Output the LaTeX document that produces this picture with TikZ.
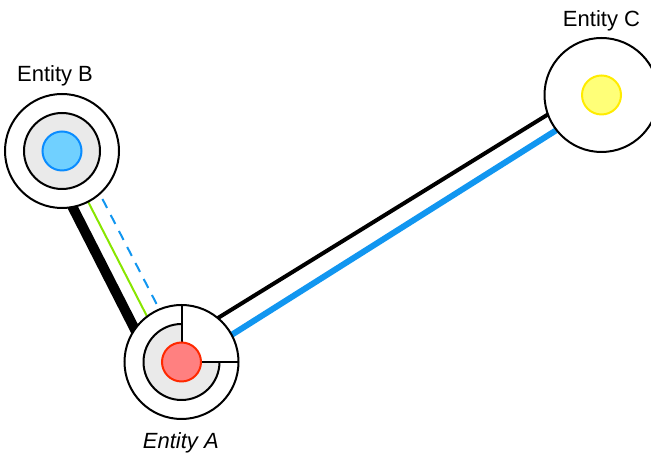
\documentclass[tikz,border=0pt]{standalone}
\usepackage{fontspec}
\setmainfont{Liberation Sans}
\usetikzlibrary{backgrounds}

\definecolor{ringgray}{RGB}{234,234,234}
\definecolor{bluefill}{RGB}{112,208,255}
\definecolor{blueline}{RGB}{10,140,255}
\definecolor{redfill}{RGB}{255,128,128}
\definecolor{redline}{RGB}{255,40,0}
\definecolor{yellowfill}{RGB}{255,255,120}
\definecolor{yellowline}{RGB}{255,236,0}
\definecolor{linkgreen}{RGB}{136,230,0}
\definecolor{linkblue}{RGB}{17,150,240}

\begin{document}
\begin{tikzpicture}[x=1pt,y=1pt,
  outerring/.style={circle, draw=black, line width=2pt, fill=white,
    minimum size=114pt, inner sep=0pt, outer sep=0pt},
  midring/.style={circle, draw=black, line width=2pt, fill=ringgray,
    minimum size=76pt, inner sep=0pt, outer sep=0pt},
  core/.style={circle, line width=2pt, minimum size=39pt, inner sep=0pt, outer sep=0pt},
  entitylabel/.style={anchor=base, inner sep=0pt, font=\fontsize{22}{26}\selectfont},
  heavylink/.style={line width=10pt, black},
  blacklink/.style={line width=4pt, black},
  greenlink/.style={line width=2pt, linkgreen},
  bluedash/.style={line width=2pt, linkblue, dash pattern=on 10pt off 8pt},
  bluelink/.style={line width=6pt, linkblue}]

\useasboundingbox (0,0) rectangle (651,454);

% Entity B: three concentric rings
\node[outerring] (B) at (62,303) {};
\node[midring] (Bmid) at (B) {};
\node[core, fill=bluefill, draw=blueline] (Bcore) at (B) {};
\node[entitylabel] (labB) at (55,372.3) {Entity B};

% Entity C: plain ring with a yellow core
\node[outerring] (C) at (601.5,359) {};
\node[core, fill=yellowfill, draw=yellowline] (Ccore) at (C) {};
\node[entitylabel] (labC) at (601.5,427) {Entity C};

% Entity A: ring with the upper-right quarter cut out
\node[outerring] (A) at (181.5,92) {};
\fill[ringgray] (A.center) -- ([yshift=38pt]A.center)
  arc[start angle=90, end angle=360, radius=38] -- cycle;
\draw[line width=2pt] ([yshift=38pt]A.center)
  arc[start angle=90, end angle=360, radius=38];
\draw[line width=2pt] (A.north) -- (A.center) -- (A.east);
\node[core, fill=redfill, draw=redline] (Acore) at (A) {};
\node[entitylabel] (labA) at (180.8,5.7) {\itshape Entity A};

% links, drawn beneath the entity rings
\begin{scope}[on background layer]
  \fill[white] (0,0) rectangle (651,454);
  \draw[heavylink] ([xshift=-18pt]B.center) -- ([xshift=-30pt]A.center);
  \draw[greenlink] (B.center) -- ([xshift=-11pt]A.center);
  \draw[bluedash] ([xshift=15.7pt]B.center) -- ([xshift=5pt]A.center);
  \draw[blacklink] ([yshift=21.5pt]A.center) -- ([yshift=13.6pt]C.center);
  \draw[bluelink] ([yshift=-4.5pt]A.center) -- ([yshift=-6.7pt]C.center);
\end{scope}
\end{tikzpicture}
\end{document}
